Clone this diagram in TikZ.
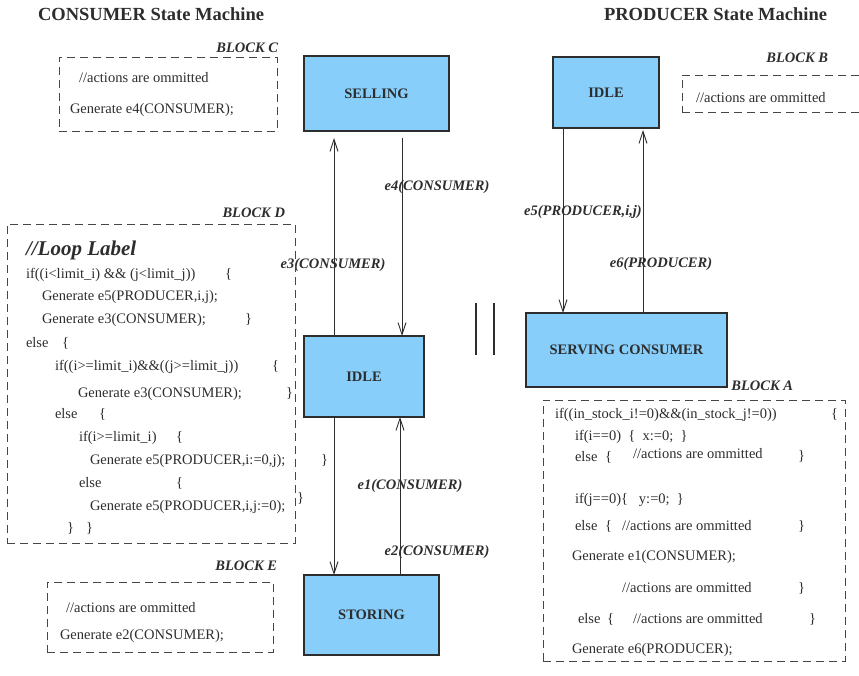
\documentclass[tikz,border=0pt]{standalone}
\usepackage{fontspec}
\setmainfont{Liberation Serif}
\usetikzlibrary{arrows.meta}
\definecolor{statefill}{RGB}{135,206,250}
\definecolor{ink}{RGB}{45,45,45}
\definecolor{dashink}{RGB}{70,70,70}
\begin{document}
\begin{tikzpicture}[x=1pt,y=-1pt,
  every node/.style={inner sep=0pt, outer sep=0pt, text=ink},
  statebox/.style={draw=ink, line width=1.2pt, fill=statefill, anchor=north west, font=\bfseries\fontsize{14.5}{17}\selectfont},
  blockbox/.style={draw=dashink, line width=0.9pt, dash pattern=on 8pt off 5pt, anchor=north west},
  code/.style={anchor=base west, font=\fontsize{14.5}{17}\selectfont},
  evlabel/.style={anchor=base, font=\bfseries\itshape\fontsize{14.5}{17}\selectfont},
  blocklabel/.style={anchor=base east, font=\bfseries\itshape\fontsize{14.5}{17}\selectfont},
  titletext/.style={anchor=base west, font=\bfseries\fontsize{18.5}{22}\selectfont},
  conn/.style={draw=ink, line width=0.9pt, -{Straight Barb[length=12pt,width=8pt]}},
  bars/.style={draw=ink, line width=2.2pt},
]
\useasboundingbox (0,0) rectangle (859,675);

% titles
\node[titletext] (ctitle) at (38,20) {CONSUMER State Machine};
\node[titletext] (ptitle) at (604,20) {PRODUCER State Machine};

% ---------------- CONSUMER ----------------
\node[statebox, minimum width=145pt, minimum height=75pt] (selling) at (304,56) {SELLING};
\node[statebox, minimum width=120pt, minimum height=81pt] (cidle) at (304,336) {IDLE};
\node[statebox, minimum width=135pt, minimum height=80pt] (storing) at (304,575) {STORING};

\coordinate (xa) at (334,0);
\coordinate (xb) at (402,0);
\coordinate (xc) at (400,0);
\draw[conn, shorten >=7pt] (xa |- cidle.north) -- (xa |- selling.south);
\draw[conn, shorten <=7pt] (xb |- selling.south) -- (xb |- cidle.north);
\draw[conn] (xa |- cidle.south) -- (xa |- storing.north);
\draw[conn] (xc |- storing.north) -- (xc |- cidle.south);

\node[evlabel] (le4) at (437,190) {e4(CONSUMER)};
\node[evlabel] (le3) at (333,268) {e3(CONSUMER)};
\node[evlabel] (le1) at (410,489) {e1(CONSUMER)};
\node[evlabel] (le2) at (437,555) {e2(CONSUMER)};

% Block C
\node[blocklabel] (lblC) at (278,52) {BLOCK C};
\node[blockbox, minimum width=218pt, minimum height=74pt] (blockC) at (59,57) {};
\node[code] (c1) at (79,82) {//actions are ommitted};
\node[code] (c2) at (70,113) {Generate e4(CONSUMER);};

% Block D
\node[blocklabel] (lblD) at (285,217) {BLOCK D};
\node[blockbox, minimum width=288pt, minimum height=319pt] (blockD) at (7,224) {};
\node[anchor=base west, font=\bfseries\itshape\fontsize{21}{24}\selectfont] (d0) at (26,255) {//Loop Label};
\node[code] (d1) at (26,278) {if((i<limit\_i) \&\& (j<limit\_j))};
\node[code] (d1b) at (225,278) {\{};
\node[code] (d2) at (42,300) {Generate e5(PRODUCER,i,j);};
\node[code] (d3) at (42,323) {Generate e3(CONSUMER);};
\node[code] (d3b) at (245,323) {\}};
\node[code] (d4) at (26,347) {else};
\node[code] (d4b) at (62,347) {\{};
\node[code] (d5) at (55,370) {if((i>=limit\_i)\&\&((j>=limit\_j))};
\node[code] (d5b) at (272,370) {\{};
\node[code] (d6) at (78,397) {Generate e3(CONSUMER);};
\node[code] (d6b) at (286,397) {\}};
\node[code] (d7) at (55,418) {else};
\node[code] (d7b) at (99,418) {\{};
\node[code] (d8) at (79,441) {if(i>=limit\_i)};
\node[code] (d8b) at (176,441) {\{};
\node[code] (d9) at (90,464) {Generate e5(PRODUCER,i:=0,j);};
\node[code] (d9b) at (321,464) {\}};
\node[code] (d10) at (79,487) {else};
\node[code] (d10b) at (176,487) {\{};
\node[code] (d11) at (90,510) {Generate e5(PRODUCER,i,j:=0);};
\node[code] (d11b) at (297,502) {\}};
\node[code] (d12) at (67,532) {\}};
\node[code] (d12b) at (86,532) {\}};

% Block E
\node[blocklabel] (lblE) at (277,570) {BLOCK E};
\node[blockbox, minimum width=226pt, minimum height=70pt] (blockE) at (47,582) {};
\node[code] (e1t) at (66,612) {//actions are ommitted};
\node[code] (e2t) at (60,639) {Generate e2(CONSUMER);};

% parallel bars
\coordinate (b1t) at (476,303);
\coordinate (b1b) at (476,355);
\coordinate (b2t) at (494,303);
\coordinate (b2b) at (494,355);
\draw[bars] (b1t) -- (b1b);
\draw[bars] (b2t) -- (b2b);

% ---------------- PRODUCER ----------------
\node[statebox, minimum width=106pt, minimum height=71pt] (pidle) at (553,57) {IDLE};
\node[statebox, minimum width=201pt, minimum height=74pt] (serving) at (526,313) {SERVING CONSUMER};

\coordinate (xd) at (563,0);
\coordinate (xe) at (643,0);
\draw[conn] (xd |- pidle.south) -- (xd |- serving.north);
\draw[conn, shorten >=2pt] (xe |- serving.north) -- (xe |- pidle.south);

\node[evlabel] (le5) at (583,215) {e5(PRODUCER,i,j)};
\node[evlabel] (le6) at (661,267) {e6(PRODUCER)};

% Block B
\node[blocklabel] (lblB) at (828,62) {BLOCK B};
\node[blockbox, minimum width=200pt, minimum height=37pt] (blockB) at (682,75) {};
\node[code] (b1) at (696,102) {//actions are ommitted};

% Block A
\node[blocklabel] (lblA) at (793,390) {BLOCK A};
\node[blockbox, minimum width=302pt, minimum height=261pt] (blockA) at (543,400) {};
\node[code] (a1) at (555,418) {if((in\_stock\_i!=0)\&\&(in\_stock\_j!=0))};
\node[code] (a1b) at (831,418) {\{};
\node[code] (a2) at (575,440) {if(i==0)~~\{~~x:=0;~~\}};
\node[code] (a3) at (575,461) {else};
\node[code] (a3a) at (605,461) {\{};
\node[code] (a3b) at (633,458) {//actions are ommitted};
\node[code] (a3c) at (798,460) {\}};
\node[code] (a4) at (575,503) {if(j==0)\{~~~y:=0;~~\}};
\node[code] (a5) at (575,530) {else};
\node[code] (a5a) at (605,530) {\{};
\node[code] (a5b) at (622,530) {//actions are ommitted};
\node[code] (a5c) at (798,530) {\}};
\node[code] (a6) at (572,560) {Generate e1(CONSUMER);};
\node[code] (a7) at (622,592) {//actions are ommitted};
\node[code] (a7b) at (798,592) {\}};
\node[code] (a8) at (578,623) {else};
\node[code] (a8a) at (607,623) {\{};
\node[code] (a8b) at (633,623) {//actions are ommitted};
\node[code] (a8c) at (809,623) {\}};
\node[code] (a9) at (572,653) {Generate e6(PRODUCER);};
\end{tikzpicture}
\end{document}
